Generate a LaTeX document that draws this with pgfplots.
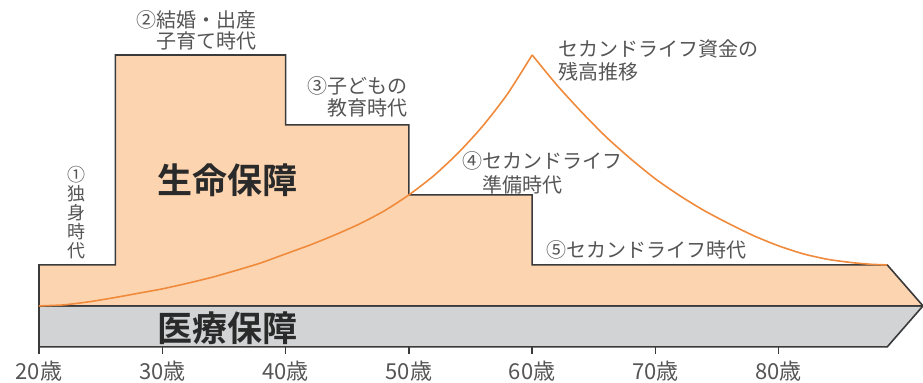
\documentclass[border=0pt]{standalone}
\usepackage{pgfplots}
\pgfplotsset{compat=1.18}
\usepackage{fontspec}
\setmainfont{Noto Sans CJK JP}[BoldFont={Noto Sans CJK JP Bold}]
\definecolor{peach}{HTML}{FCD5B0}
\definecolor{band}{HTML}{D1D3D4}
\definecolor{edge}{HTML}{3A3A3A}
\definecolor{curve}{HTML}{F08A3C}
\definecolor{txt}{HTML}{555555}
\definecolor{big}{HTML}{2A2A2A}
\begin{document}
\begin{tikzpicture}
\begin{axis}[
  x=6.1667pt, y=0.5pt,
  xmin=16.838, xmax=91.7, ymin=0, ymax=347,
  clip=false,
  axis line style={draw=none},
  ytick=\empty,
  xtick={20,30,40,50,60,70,80},
  xticklabels={20歳,30歳,40歳,50歳,60歳,70歳,80歳},
  xtick pos=bottom,
  tick align=outside,
  major tick length=3.5pt,
  xtick style={draw=edge, line width=0.7pt},
  xticklabel style={font=\fontsize{11}{12}\selectfont, text=txt, anchor=center, yshift=-8.5pt},
  xticklabel shift=0pt,
]
\coordinate (bl) at (axis cs:16.838,-36);
\coordinate (tr) at (axis cs:91.7,347);
% medical band
\addplot[fill=band, draw=edge, line width=0.8pt] coordinates {
 (20,0) (20,41) (91.7,41) (88.8,0) (20,0)} -- cycle;
% life coverage
\addplot[fill=peach, draw=edge, line width=0.8pt] coordinates {
 (20,41) (20,82) (26.2,82) (26.2,292) (40,292) (40,222) (50,222) (50,152)
 (60,152) (60,82) (88.8,82) (91.7,41) (20,41)} -- cycle;
% second life fund balance
\addplot[curve, line width=0.8pt, smooth, tension=0.4] coordinates {
 (20,41) (22,42) (24,45) (26,49) (28,53.5) (30,58) (32,63.5) (34,69.5)
 (36,76.5) (38,84) (40,93) (42,102) (44,112) (46,123) (48,136) (50,152)
 (52,171) (54,194) (56,221) (58,253) (60,292)};
\addplot[curve, line width=0.8pt, smooth, tension=0.4] coordinates {
 (60,292) (62,262) (64,235) (66,210) (68,188) (70,168) (72,151) (74,136)
 (76,123) (78,111) (80,101) (82,93) (84,87.5) (86,84.2) (87.5,82.6) (88.8,82)};
% labels
\node[font=\fontsize{9}{9.5}\selectfont, text=txt, align=center, inner sep=0pt] at (axis cs:23.08,134) {①\\独\\身\\時\\代};
\node[font=\fontsize{10}{10.5}\selectfont, text=txt, align=right, anchor=east, inner sep=0pt] at (axis cs:37.68,316.5) {②結婚・出産\\子育て時代};
\node[font=\fontsize{10}{11}\selectfont, text=txt, align=right, anchor=east, inner sep=0pt] at (axis cs:49.92,250.5) {③子どもの\\教育時代};
\node[font=\fontsize{10}{12}\selectfont, text=txt, align=left, anchor=west, inner sep=0pt] at (axis cs:54.30,174.5) {④セカンドライフ\\\hspace{1em}準備時代};
\node[font=\fontsize{10}{11}\selectfont, text=txt, anchor=west, inner sep=0pt] at (axis cs:61.11,97) {⑤セカンドライフ時代};
\node[font=\fontsize{10}{11.5}\selectfont, text=txt, align=left, anchor=west, inner sep=0pt] at (axis cs:62.08,287) {セカンドライフ資金の\\残高推移};
\node[font=\bfseries\fontsize{17.5}{18}\selectfont, text=big, inner sep=0pt] at (axis cs:35.32,167) {生命保障};
\node[font=\bfseries\fontsize{17.5}{18}\selectfont, text=big, inner sep=0pt] at (axis cs:35.32,19) {医療保障};
\end{axis}
\pgfresetboundingbox
\path[use as bounding box] (bl) rectangle (tr);
\end{tikzpicture}
\end{document}
